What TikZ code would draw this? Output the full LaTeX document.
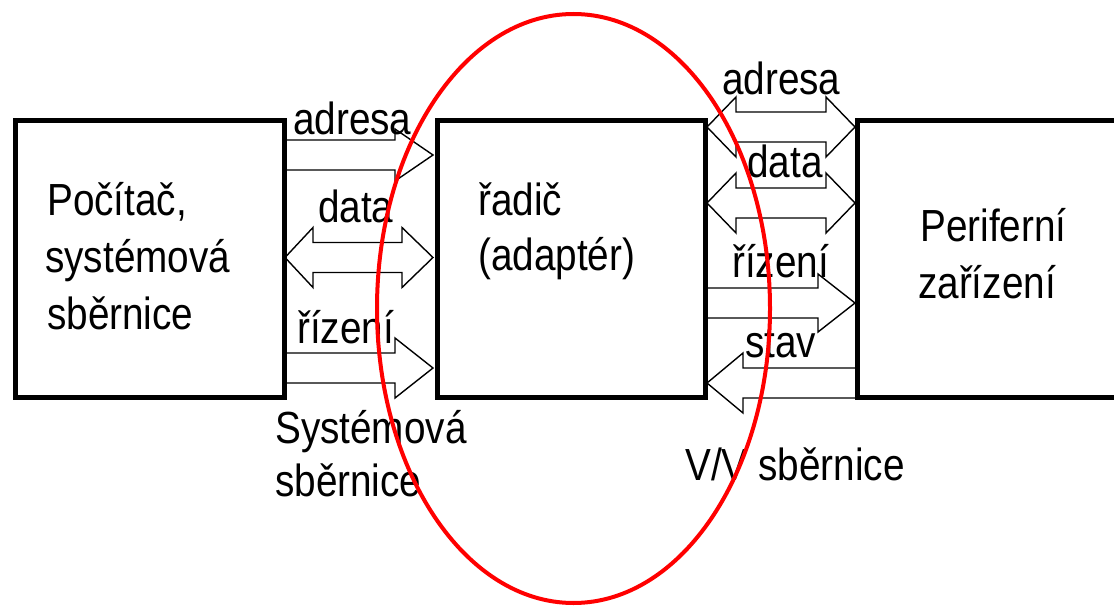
\documentclass[tikz,border=0pt]{standalone}
\usepackage{fontspec}
\setmainfont{Liberation Sans}[FakeStretch=0.86]
\begin{document}
\begin{tikzpicture}[x=1pt,y=-1pt,
  box/.style={draw=black,line width=5pt,fill=none,inner sep=0pt,minimum width=#1,minimum height=276pt},
  arr/.style={draw=black,line width=1.4pt,fill=white,line join=miter},
  lbl/.style={anchor=base west,inner sep=0pt,font=\fontsize{45}{52}\selectfont},
  ring/.style={draw=red,line width=4pt}]
\useasboundingbox (0,0) rectangle (1114,607);
% block arrows
\newcommand\ArR[5]{\draw[arr] (#1,#3-15) -- (#4,#3-15) -- (#4,#3-#5) -- (#2,#3) -- (#4,#3+#5) -- (#4,#3+15) -- (#1,#3+15);}
\newcommand\ArL[5]{\draw[arr] (#1,#3-15) -- (#4,#3-15) -- (#4,#3-#5) -- (#2,#3) -- (#4,#3+#5) -- (#4,#3+15) -- (#1,#3+15);}
\newcommand\ArD[6]{\draw[arr] (#4,#3-15) -- (#5,#3-15) -- (#5,#3-#6) -- (#2,#3) -- (#5,#3+#6) -- (#5,#3+15) -- (#4,#3+15) -- (#4,#3+#6) -- (#1,#3) -- (#4,#3-#6) -- cycle;}
% system bus
\ArR{284}{433}{155}{395}{26}
\ArD{285}{433}{257.5}{313}{402}{30}
\ArR{284}{433}{368}{395}{30}
% I/O bus
\ArD{707}{855}{127}{736}{826}{30}
\ArD{707}{855}{203}{736}{826}{30}
\ArR{705}{855}{303}{818}{29}
\ArL{857}{707}{383}{743}{30}
% boxes
\node[box=269pt] (pc) at (149.5,259) {};
\node[box=268pt] (ctrl) at (571,259) {};
\node[box=290pt] (dev) at (1002,259) {};
% texts
\node[lbl] (t1) at (47,215) {Počítač,};
\node[lbl] (t2) at (45,272) {systémová};
\node[lbl] (t3) at (47,329) {sběrnice};
\node[lbl] (t4) at (478,215) {řadič};
\node[lbl] (t5) at (478,270) {(adaptér)};
\node[lbl] (t6) at (920,241) {Periferní};
\node[lbl] (t7) at (918,298) {zařízení};
\node[lbl] (a1) at (293,135) {adresa};
\node[lbl] (a2) at (318,222) {data};
\node[lbl] (a3) at (297,343) {řízení};
\node[lbl] (s1) at (275,443) {Systémová};
\node[lbl] (s2) at (275,496) {sběrnice};
\node[lbl] (b1) at (722,95) {adresa};
\node[lbl] (b2) at (747,178) {data};
\node[lbl] (b3) at (732,277) {řízení};
\node[lbl] (b4) at (745,357) {stav};
\node[lbl] (v1) at (685,480) {V/V sběrnice};
% highlight
\draw[ring] (573.5,308.5) ellipse [x radius=196.5, y radius=294.5];
\end{tikzpicture}
\end{document}
